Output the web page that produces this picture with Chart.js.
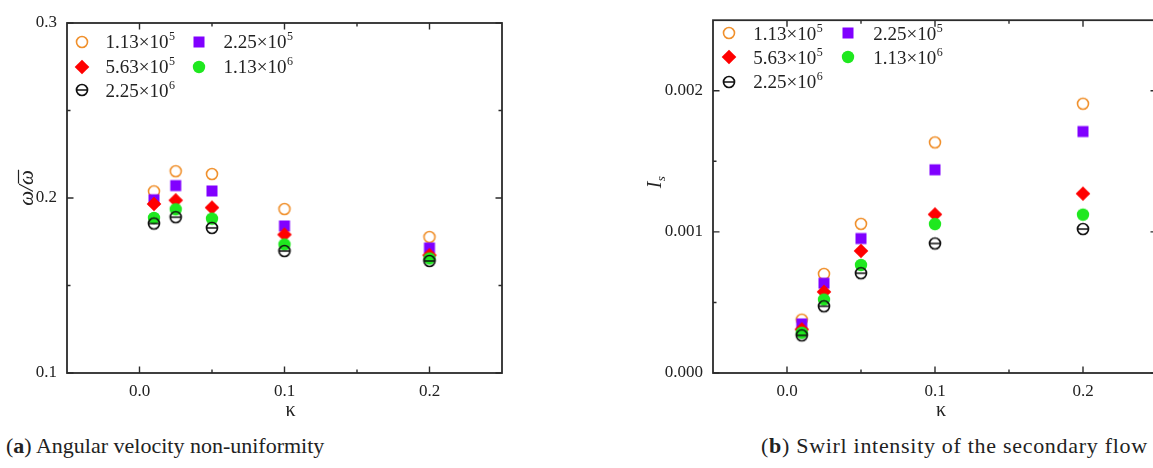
<!DOCTYPE html>
<html>
<head>
<meta charset="utf-8">
<script src="https://cdn.jsdelivr.net/npm/chart.js@4/dist/chart.umd.min.js"></script>
<style>
  html, body { margin: 0; padding: 0; background: #fff; overflow: hidden; width: 1153px; height: 468px; }
  .panel { position: absolute; top: 0; height: 420px; }
  #pa { left: 0; width: 580px; }
  #pb { left: 580px; width: 600px; }
  .cap { position: absolute; top: 433px; font-family: "Liberation Serif", serif; font-size: 22px; color: #222; white-space: nowrap; }
</style>
</head>
<body>
<div class="panel" id="pa"><canvas id="ca"></canvas></div>
<div class="panel" id="pb"><canvas id="cb"></canvas></div>
<div class="cap" style="left:6px">(<b>a</b>) Angular velocity non-uniformity</div>
<div class="cap" style="left:761px; letter-spacing:0.7px">(<b>b</b>) Swirl intensity of the secondary flow</div>
<script>
// curvature ratio
const kappa = [0.01, 0.025, 0.05, 0.1, 0.2];

// Reynolds numbers (legend labels: mantissa × 10^exponent)
const reMantissa = ['1.13', '2.25', '5.63', '1.13', '2.25'];
const reExponent = ['5', '5', '5', '6', '6'];

// (a) angular velocity non-uniformity
const omegaRe1 = [0.2038, 0.2153, 0.2137, 0.1937, 0.1777];
const omegaRe2 = [0.1990, 0.2071, 0.2040, 0.1840, 0.1714];
const omegaRe3 = [0.1966, 0.1987, 0.1945, 0.1791, 0.1673];
const omegaRe4 = [0.1886, 0.1935, 0.1882, 0.1734, 0.1654];
const omegaRe5 = [0.1854, 0.1890, 0.1829, 0.1697, 0.1640];

// (b) swirl intensity of the secondary flow
const swirlRe1 = [0.000378, 0.000702, 0.001057, 0.001634, 0.001908];
const swirlRe2 = [0.000348, 0.000636, 0.000953, 0.001440, 0.001711];
const swirlRe3 = [0.000309, 0.000575, 0.000865, 0.001124, 0.001271];
const swirlRe4 = [0.000285, 0.000520, 0.000765, 0.001055, 0.001122];
const swirlRe5 = [0.000267, 0.000473, 0.000707, 0.000918, 0.001020];

// axis ticks
const xMajor = [0, 0.1, 0.2];
const xMinor = [0.05, 0.15];
const omegaMajor = [0.1, 0.2, 0.3];
const omegaMinor = [0.15, 0.25];
const swirlMajor = [0, 0.001, 0.002];
const swirlMinor = [0.0005, 0.0015];

const SERIF = '"Liberation Serif", "Times New Roman", serif';

// marker sprites
function sprite(draw) {
  const c = document.createElement('canvas');
  c.width = 18; c.height = 18;
  const g = c.getContext('2d');
  draw(g, 9, 9);
  return c;
}
const markers = [
  sprite((g, x, y) => { g.strokeStyle = '#f0902c'; g.lineWidth = 1.6; g.beginPath(); g.arc(x, y, 5.5, 0, Math.PI * 2); g.stroke(); }),
  sprite((g, x, y) => { g.fillStyle = '#8000ff'; g.fillRect(x - 5.5, y - 5.5, 11, 11); }),
  sprite((g, x, y) => { g.fillStyle = '#ff0000'; g.beginPath(); g.moveTo(x, y - 7.3); g.lineTo(x + 7.3, y); g.lineTo(x, y + 7.3); g.lineTo(x - 7.3, y); g.closePath(); g.fill(); }),
  sprite((g, x, y) => { g.fillStyle = '#1fe81f'; g.beginPath(); g.arc(x, y, 6.2, 0, Math.PI * 2); g.fill(); }),
  sprite((g, x, y) => { g.strokeStyle = '#111'; g.lineWidth = 1.7; g.beginPath(); g.arc(x, y, 5.5, 0, Math.PI * 2); g.moveTo(x - 5.5, y); g.lineTo(x + 5.5, y); g.stroke(); })
];

function buildDatasets(series) {
  return series.map((vals, i) => ({
    label: reMantissa[i] + '×10' + reExponent[i],
    data: kappa.map((k, j) => ({ x: k, y: vals[j] })),
    pointStyle: markers[i],
    pointRadius: 6,
    pointHoverRadius: 6,
    showLine: false,
    order: series.length - i
  }));
}

// frame with inward ticks on all four sides, legend and axis titles
const frameTicks = {
  id: 'frameTicks',
  beforeDatasetsDraw(chart, args, o) {
    const { ctx, chartArea: a, scales: { x, y } } = chart;
    ctx.save();
    ctx.strokeStyle = '#2b2b2b';
    ctx.lineWidth = 1.8;
    ctx.strokeRect(a.left, a.top, a.right - a.left, a.bottom - a.top);
    ctx.lineWidth = 1.4;
    ctx.beginPath();
    const xt = (v, len) => { const p = x.getPixelForValue(v); ctx.moveTo(p, a.bottom); ctx.lineTo(p, a.bottom - len); ctx.moveTo(p, a.top); ctx.lineTo(p, a.top + len); };
    const yt = (v, len) => { const p = y.getPixelForValue(v); ctx.moveTo(a.left, p); ctx.lineTo(a.left + len, p); ctx.moveTo(a.right, p); ctx.lineTo(a.right - len, p); };
    xMajor.forEach(v => xt(v, 6.5));
    xMinor.forEach(v => xt(v, 3.5));
    o.yMajor.forEach(v => yt(v, 6.5));
    o.yMinor.forEach(v => yt(v, 3.5));
    ctx.stroke();
    ctx.restore();
  },
  afterDraw(chart, args, o) {
    const { ctx, chartArea: a } = chart;
    ctx.save();
    ctx.fillStyle = '#222';
    // legend, two columns
    chart.data.datasets.forEach((ds, i) => {
      const col = i % 2, row = Math.floor(i / 2);
      const mx = o.legend.cols[col], my = o.legend.rows[row];
      const img = ds.pointStyle;
      ctx.drawImage(img, Math.round(mx - img.width / 2), Math.round(my - img.height / 2));
      const tx = mx + o.legend.dx[col], base = my + 6.6;
      ctx.font = '19px ' + SERIF;
      ctx.textAlign = 'left';
      ctx.textBaseline = 'alphabetic';
      const main = reMantissa[i] + '×10';
      ctx.fillText(main, tx, base);
      const w = ctx.measureText(main).width;
      ctx.font = '12px ' + SERIF;
      ctx.fillText(reExponent[i], tx + w + 0.5, base - 8);
    });
    // x title
    ctx.font = '20px ' + SERIF;
    ctx.textAlign = 'center';
    ctx.textBaseline = 'middle';
    ctx.fillText('κ', (a.left + a.right) / 2 + o.kappaDx, 411);
    // y title
    ctx.translate(o.yTitle.x, o.yTitle.y);
    ctx.rotate(-Math.PI / 2);
    ctx.textBaseline = 'middle';
    if (o.yTitle.kind === 'omega') {
      ctx.font = 'italic 21px ' + SERIF;
      const t = 'ω/ω';
      const w = ctx.measureText(t).width, wo = ctx.measureText('ω').width;
      ctx.textAlign = 'left';
      ctx.fillText(t, -w / 2, 0);
      ctx.strokeStyle = '#222';
      ctx.lineWidth = 1.2;
      ctx.beginPath();
      ctx.moveTo(w / 2 - wo + 1.5, -8.5);
      ctx.lineTo(w / 2 + 0.5, -8.5);
      ctx.stroke();
    } else {
      ctx.font = 'italic 20px ' + SERIF;
      ctx.textAlign = 'left';
      const wi = ctx.measureText('I').width;
      ctx.fillText('I', -(wi + 6) / 2, 0);
      ctx.font = 'italic 13px ' + SERIF;
      ctx.fillText('s', -(wi + 6) / 2 + wi + 0.5, 6);
    }
    ctx.restore();
  }
};

function makeOptions(cfg) {
  return {
    responsive: true,
    maintainAspectRatio: false,
    animation: false,
    events: [],
    layout: { padding: cfg.padding },
    plugins: {
      legend: { display: false },
      tooltip: { enabled: false },
      frameTicks: cfg.deco
    },
    scales: {
      x: {
        type: 'linear',
        min: -0.05,
        max: 0.25,
        afterBuildTicks: s => { s.ticks = xMajor.map(v => ({ value: v })); },
        afterFit: s => { s.height = 47; },
        grid: { display: false, drawTicks: false },
        border: { display: false },
        ticks: {
          autoSkip: false,
          maxRotation: 0,
          padding: 8,
          color: '#222',
          font: { family: SERIF, size: 17 },
          callback: v => Number(v).toFixed(1)
        }
      },
      y: {
        type: 'linear',
        min: cfg.yMin,
        max: cfg.yMax,
        afterBuildTicks: s => { s.ticks = cfg.deco.yMajor.map(v => ({ value: v })); },
        afterFit: s => { s.width = cfg.yWidth; },
        grid: { display: false, drawTicks: false },
        border: { display: false },
        ticks: {
          autoSkip: false,
          padding: 10,
          color: '#222',
          font: { family: SERIF, size: 17 },
          callback: v => Number(v).toFixed(cfg.digits)
        }
      }
    }
  };
}

new Chart(document.getElementById('ca'), {
  type: 'scatter',
  data: { datasets: buildDatasets([omegaRe1, omegaRe2, omegaRe3, omegaRe4, omegaRe5]) },
  options: makeOptions({
    padding: { top: 23, right: 78, bottom: 0, left: 0 },
    yWidth: 67, yMin: 0.1, yMax: 0.3, digits: 1,
    deco: {
      yMajor: omegaMajor, yMinor: omegaMinor,
      legend: { cols: [82, 198.5], dx: [23.5, 25], rows: [41.7, 66.5, 90] },
      kappaDx: 6,
      yTitle: { kind: 'omega', x: 27, y: 188 }
    }
  }),
  plugins: [frameTicks]
});

new Chart(document.getElementById('cb'), {
  type: 'scatter',
  data: { datasets: buildDatasets([swirlRe1, swirlRe2, swirlRe3, swirlRe4, swirlRe5]) },
  options: makeOptions({
    padding: { top: 12, right: 23, bottom: 0, left: 0 },
    yWidth: 133, yMin: 0, yMax: 0.0025, digits: 3,
    deco: {
      yMajor: swirlMajor, yMinor: swirlMinor,
      legend: { cols: [149.3, 268.3], dx: [24, 25], rows: [33.3, 57.3, 81.7] },
      kappaDx: 6,
      yTitle: { kind: 'swirl', x: 76, y: 182 }
    }
  }),
  plugins: [frameTicks]
});
</script>
</body>
</html>
